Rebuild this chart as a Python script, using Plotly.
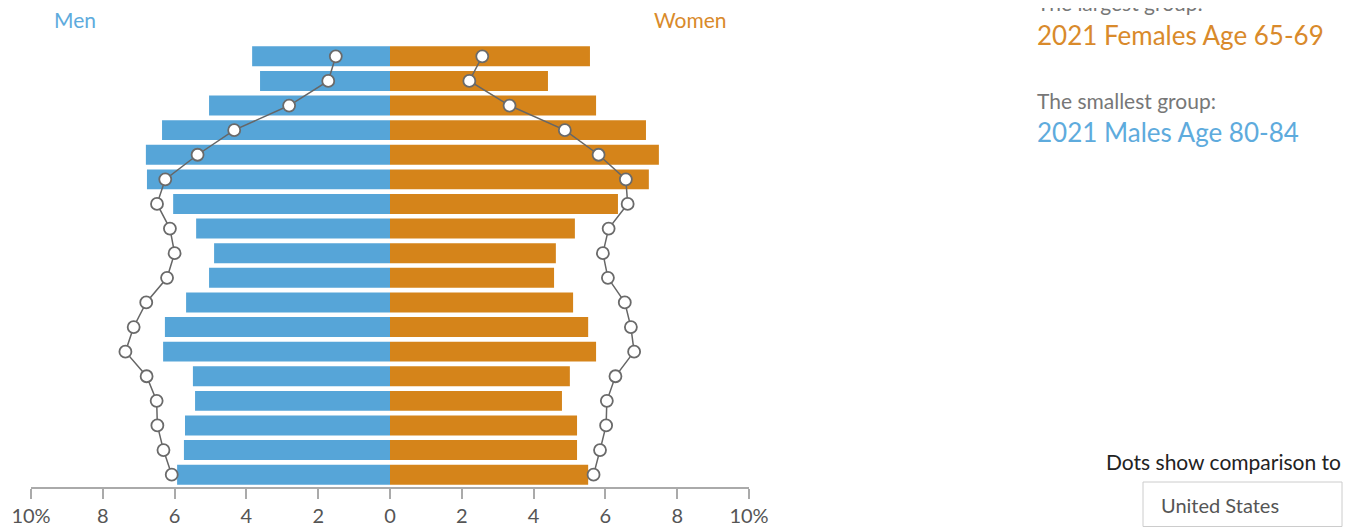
import plotly.graph_objects as go

ages = ["85+", "80-84", "75-79", "70-74", "65-69", "60-64", "55-59", "50-54", "45-49",
        "40-44", "35-39", "30-34", "25-29", "20-24", "15-19", "10-14", "5-9", "0-4"]
men = [3.84, 3.62, 5.04, 6.35, 6.80, 6.77, 6.04, 5.40, 4.90, 5.04, 5.68, 6.27, 6.32, 5.49, 5.43, 5.71, 5.74, 5.93]
women = [5.57, 4.40, 5.74, 7.13, 7.49, 7.21, 6.35, 5.15, 4.62, 4.57, 5.10, 5.52, 5.74, 5.01, 4.79, 5.21, 5.21, 5.52]
men_us = [1.51, 1.72, 2.81, 4.34, 5.36, 6.26, 6.49, 6.13, 6.00, 6.21, 6.79, 7.14, 7.37, 6.78, 6.50, 6.48, 6.31, 6.08]
women_us = [2.57, 2.21, 3.33, 4.87, 5.81, 6.57, 6.62, 6.09, 5.93, 6.07, 6.54, 6.71, 6.80, 6.28, 6.04, 6.02, 5.85, 5.67]
tick_vals = [-10, -8, -6, -4, -2, 0, 2, 4, 6, 8, 10]
tick_text = ["10%", "8", "6", "4", "2", "0", "2", "4", "6", "8", "10%"]

BLUE = "#56a5d8"
ORANGE = "#d5841a"
FONT = "Lato, 'Open Sans', sans-serif"

fig = go.Figure()
fig.add_trace(go.Bar(y=ages, x=[-v for v in men], orientation="h", marker=dict(color=BLUE, line=dict(width=0)),
                     width=0.81, name="Men", hoverinfo="skip"))
fig.add_trace(go.Bar(y=ages, x=women, orientation="h", marker=dict(color=ORANGE, line=dict(width=0)),
                     width=0.81, name="Women", hoverinfo="skip"))
for xs in ([-v for v in men_us], women_us):
    fig.add_trace(go.Scatter(y=ages, x=xs, mode="lines+markers",
                             line=dict(color="#666666", width=1.5),
                             marker=dict(size=12, color="white", line=dict(color="#6a6a6a", width=1.8)),
                             hoverinfo="skip", showlegend=False))

# page body has an 8px margin; positions below are given in page pixels
def px(x):
    return (x - 31) / 718.0

def py(y):
    return (487 - y) / 443.0

ann = []
def add(text, x, y, size, color, xanchor="left"):
    ann.append(dict(text=text, x=px(x), y=py(y), xref="paper", yref="paper", showarrow=False,
                    xanchor=xanchor, yanchor="middle", font=dict(size=size, color=color, family=FONT)))

add("Men", 75, 20, 21, "#5eabdd", "center")
add("Women", 690, 20, 21, "#d98a2b", "center")
add("The largest group:", 1035, 2, 21, "#777777")
add("2021 Females Age 65-69", 1035, 35, 26, "#d98a2b")
add("The smallest group:", 1035, 101, 21, "#777777")
add("2021 Males Age 80-84", 1035, 132, 26, "#5eabdd")
add("Dots show comparison to", 1343, 461, 21, "#222222", "right")
add("United States", 1159, 505, 20, "#555555")

fig.update_layout(
    width=1348, height=519,
    margin=dict(l=23, r=607, t=36, b=40, autoexpand=False),
    barmode="overlay",
    showlegend=False,
    plot_bgcolor="white", paper_bgcolor="white",
    annotations=ann,
    shapes=[dict(type="rect", xref="paper", yref="paper", x0=px(1143), x1=px(1342), y0=py(526.5), y1=py(482),
                 line=dict(color="#cccccc", width=1), fillcolor="rgba(0,0,0,0)")],
    xaxis=dict(range=[-10, 10], tickvals=tick_vals, ticktext=tick_text, showgrid=False, zeroline=False,
               showline=True, linecolor="#aaaaaa", linewidth=1.5, ticks="outside", ticklen=10,
               tickcolor="#aaaaaa", tickwidth=1.5, tickfont=dict(size=20, color="#555555", family=FONT),
               ticklabelstandoff=0, automargin=False, fixedrange=True),
    yaxis=dict(categoryorder="array", categoryarray=ages[::-1], range=[-0.5, 17.5], showticklabels=False,
               showgrid=False, zeroline=False, showline=False, ticks="", automargin=False, fixedrange=True),
)

fig.write_html("out.html")
